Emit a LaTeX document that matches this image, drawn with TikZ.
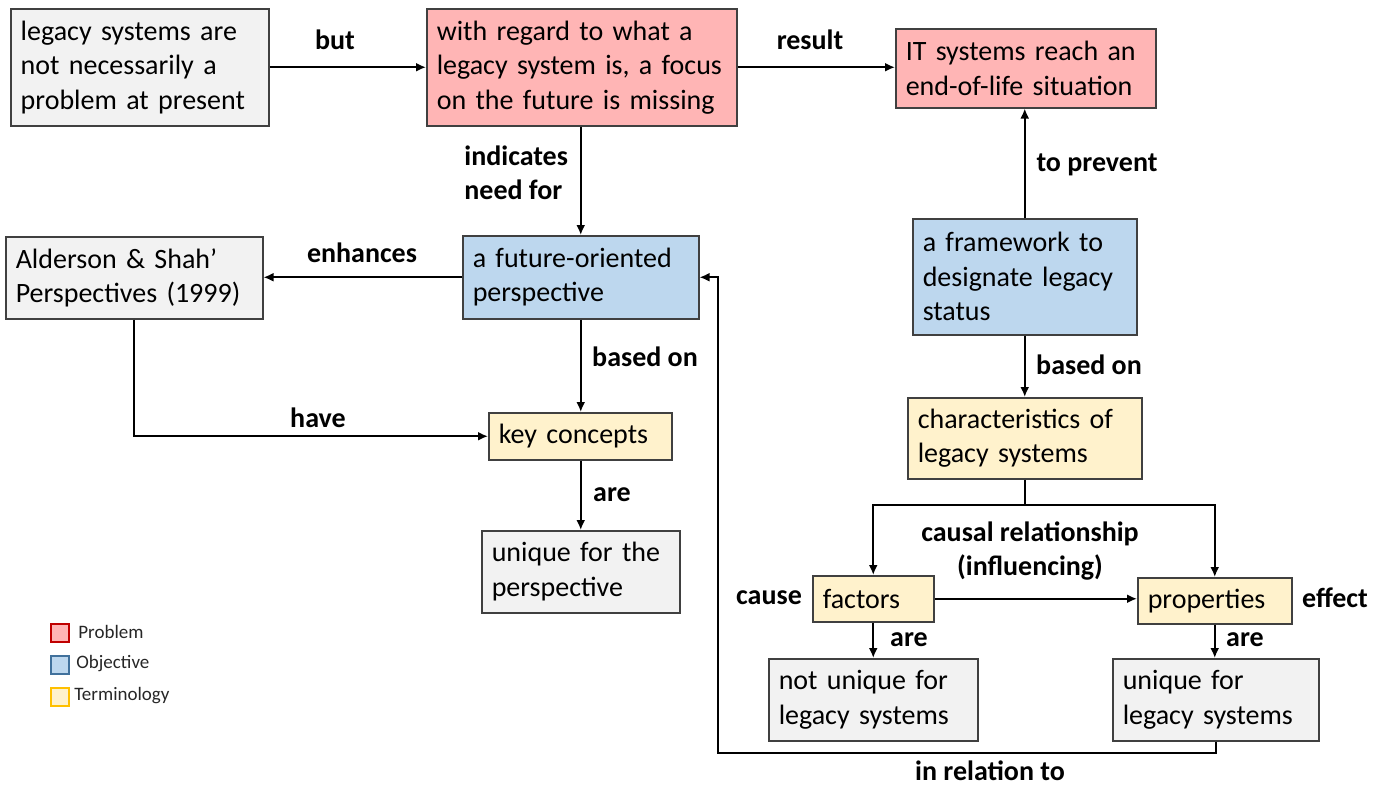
\documentclass[tikz,border=0pt]{standalone}
\usepackage{fontspec}
\setmainfont{Carlito}
\usetikzlibrary{arrows.meta}
\definecolor{bdr}{HTML}{404040}
\definecolor{gfill}{HTML}{F2F2F2}
\definecolor{rfill}{HTML}{FFB5B5}
\definecolor{bfill}{HTML}{BDD7EE}
\definecolor{yfill}{HTML}{FFF2CC}
\definecolor{rbdr}{HTML}{C00000}
\definecolor{bbdr}{HTML}{41719C}
\definecolor{ybdr}{HTML}{FFC000}
\tikzset{
  base/.style={draw=bdr, line width=0.75pt, anchor=north west, align=left,
    inner xsep=5pt, inner ysep=0pt, font=\fontsize{14}{17.25}\selectfont},
  greybox/.style={base, fill=gfill},
  redbox/.style={base, fill=rfill},
  bluebox/.style={base, fill=bfill},
  yelbox/.style={base, fill=yfill},
  lab/.style={font=\bfseries\fontsize{14}{17.25}\selectfont, align=center, inner sep=1pt},
  conn/.style={line width=1pt, draw=black, -{Latex[length=5pt,width=4.5pt]}},
  legsq/.style={line width=0.75pt, anchor=north west, minimum width=9pt, minimum height=9pt, inner sep=0pt},
  legtx/.style={anchor=west, font=\fontsize{9.5}{11}\selectfont, text=black!85, inner sep=0pt},
}
\begin{document}
\begin{tikzpicture}[x=0.5pt, y=-0.5pt]
\useasboundingbox (0,0) rectangle (1387,788);

% boxes
\node[greybox, minimum width=129pt, minimum height=58.5pt, text width=119pt] (A) at (10,8)
  {legacy systems are\\not necessarily a\\problem at present};
\node[redbox, minimum width=155pt, minimum height=58.5pt, text width=145pt] (B) at (426,8)
  {with regard to what a\\legacy system is, a focus\\on the future is missing};
\node[redbox, minimum width=130pt, minimum height=39.5pt, text width=120pt] (C) at (895,28)
  {IT systems reach an\\end-of-life situation};
\node[bluebox, minimum width=118pt, minimum height=41.5pt, text width=108pt] (D) at (462,235)
  {a future-oriented\\perspective};
\node[greybox, minimum width=128.5pt, minimum height=41pt, text width=118.5pt] (E) at (5,236)
  {Alderson \& Shah’\\Perspectives (1999)};
\node[yelbox, minimum width=91.5pt, minimum height=23.5pt, text width=81.5pt] (F) at (488,412)
  {key concepts};
\node[greybox, minimum width=99pt, minimum height=41pt, text width=89pt] (G) at (481,530)
  {unique for the\\perspective};
\node[bluebox, minimum width=112pt, minimum height=58pt, text width=102pt] (H) at (912,218)
  {a framework to\\designate legacy\\status};
\node[yelbox, minimum width=117pt, minimum height=40.5pt, text width=107pt] (I) at (907,397)
  {characteristics of\\legacy systems};
\node[yelbox, minimum width=60.5pt, minimum height=23pt, text width=50.5pt] (J) at (812,575)
  {factors};
\node[yelbox, minimum width=77pt, minimum height=23pt, text width=67pt] (K) at (1137,577)
  {properties};
\node[greybox, minimum width=104.5pt, minimum height=41pt, text width=94.5pt] (L) at (768,658)
  {not unique for\\legacy systems};
\node[greybox, minimum width=103pt, minimum height=41pt, text width=93pt] (M) at (1112,658)
  {unique for\\legacy systems};

% connectors
\draw[conn] (A.east) -- (A.east -| B.west);
\draw[conn] (B.east) -- (B.east -| C.west);
\draw[conn] (D.north |- B.south) -- (D.north);
\draw[conn] (D.west) -- (D.west -| E.east);
\draw[conn] (D.south) -- (D.south |- F.north);
\draw[conn] (E.south) |- (F.west);
\draw[conn] (G.north |- F.south) -- (G.north);
\draw[conn] (H.north) -- (H.north |- C.south);
\draw[conn] (H.south) -- (H.south |- I.north);
\coordinate (split) at (1023,505);
\draw[line width=1pt] (I.south) -- (I.south |- split);
\draw[conn] (I.south |- split) -| (J.north);
\draw[conn] (I.south |- split) -| (K.north);
\draw[conn] (J.east) -- (J.east -| K.west);
\draw[conn] (J.south) -- (J.south |- L.north);
\draw[conn] (K.south) -- (K.south |- M.north);
\coordinate (loop) at (718,753);
\draw[conn] (M.south) |- (loop) |- (D.east);

% labels
\node[lab] (lbut) at (335,40) {but};
\node[lab] (lres) at (810,40) {result};
\node[lab, align=left, anchor=west] (lind) at (462,173) {indicates\\need for};
\node[lab] (lprev) at (1097,165) {to prevent};
\node[lab] (lenh) at (362,253) {enhances};
\node[lab] (lbas1) at (645,357) {based on};
\node[lab] (lhave) at (318,418) {have};
\node[lab] (lare1) at (612,495) {are};
\node[lab] (lbas2) at (1089,365) {based on};
\node[lab] (lcaus) at (1030,551) {causal relationship\\(influencing)};
\node[lab] (lcause) at (769,598) {cause};
\node[lab] (leff) at (1335,598) {effect};
\node[lab] (lare2) at (909,640) {are};
\node[lab] (lare3) at (1245,640) {are};
\node[lab] (lrel) at (990,771) {in relation to};

% legend
\node[legsq, draw=rbdr, fill=rfill] (q1) at (50,623) {};
\node[legtx] (t1) at (78,632) {Problem};
\node[legsq, draw=bbdr, fill=bfill] (q2) at (50,655) {};
\node[legtx] (t2) at (76,664) {Objective};
\node[legsq, draw=ybdr, fill=yfill] (q3) at (50,687) {};
\node[legtx] (t3) at (74,696) {Terminology};
\end{tikzpicture}
\end{document}
